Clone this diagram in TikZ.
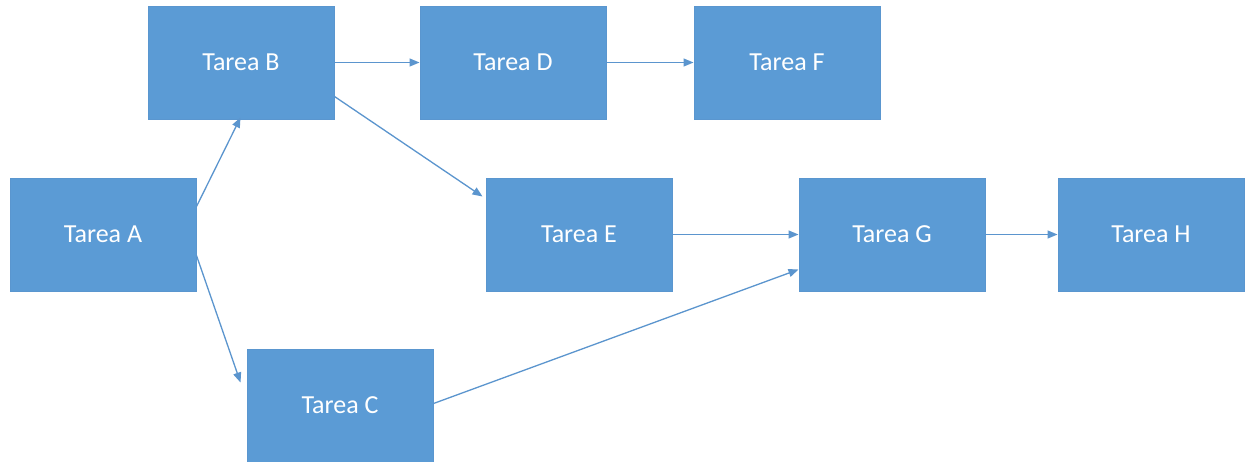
\documentclass[tikz,border=0pt]{standalone}
\usepackage{fontspec}
\setmainfont{Carlito}
\usetikzlibrary{arrows.meta,calc}
\definecolor{boxfill}{HTML}{5B9BD5}
\definecolor{boxline}{HTML}{5A96CF}
\definecolor{arrowcol}{HTML}{5B95CE}
\tikzset{
  tarea/.style={draw=boxline, line width=1pt, fill=boxfill, minimum width=186pt, minimum height=113pt, inner sep=0pt, text=white, font=\fontsize{26}{30}\selectfont},
  conn/.style={draw=arrowcol, line width=1.3pt, -{Triangle[length=10pt,width=8pt]}}
}
\begin{document}
\begin{tikzpicture}[x=1pt,y=-1pt]
\useasboundingbox (0,0) rectangle (1246,461);
\clip (0,0) rectangle (1246,461);
\fill[white] (0,0) rectangle (1246,461);
\node[tarea] (A) at (103,234.5) {Tarea A};
\node[tarea] (B) at (241,62.5) {Tarea B};
\node[tarea] (D) at (513,62.5) {Tarea D};
\node[tarea] (F) at (787,62.5) {Tarea F};
\node[tarea] (E) at (579,234.5) {Tarea E};
\node[tarea] (G) at (892,234.5) {Tarea G};
\node[tarea] (H) at (1151,234.5) {Tarea H};
\node[tarea] (C) at (340,405.5) {Tarea C};
\draw[conn] ([yshift=-29pt]A.north east) -- ([xshift=93pt,yshift=2pt]B.south west);
\draw[conn] ([yshift=-78pt]A.north east) -- ([xshift=-6pt,yshift=-34pt]C.north west);
\draw[conn] (B.east) -- (D.west);
\draw[conn] (D.east) -- (F.west);
\draw[conn] ([yshift=-91pt]B.north east) -- ([xshift=-3pt,yshift=-19pt]E.north west);
\draw[conn] (E.east) -- (G.west);
\draw[conn] (G.east) -- (H.west);
\draw[conn] ([yshift=-55pt]C.north east) -- ([yshift=-92pt]G.north west);
\end{tikzpicture}
\end{document}
